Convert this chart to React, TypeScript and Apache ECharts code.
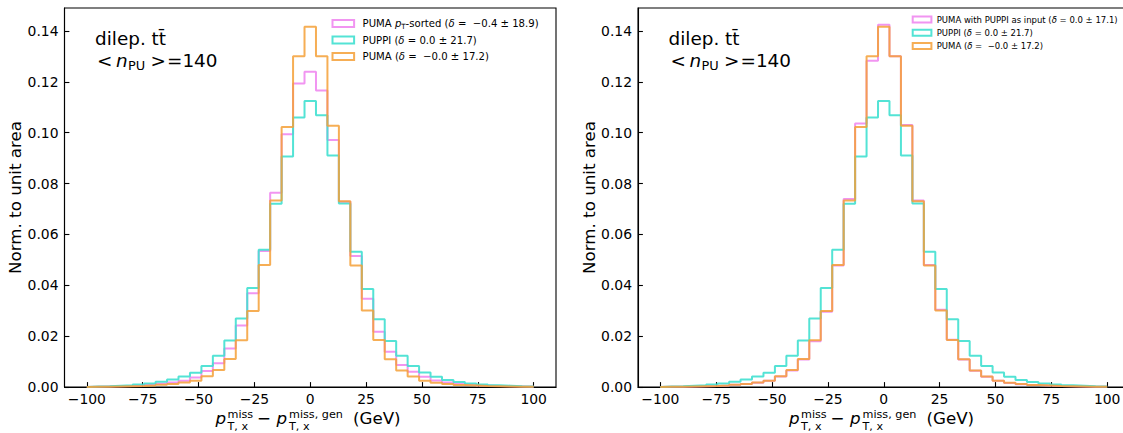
import React, { useEffect, useRef } from "react";
import * as echarts from "echarts";

// ---------------- data ----------------
const BIN_LO = -100;
const BIN_HI = 100;
const N_BINS = 39;
const BIN_EDGES: number[] = Array.from({ length: N_BINS + 1 }, (_, i) => BIN_LO + (i * (BIN_HI - BIN_LO)) / N_BINS);

const X_TICKS = [-100, -75, -50, -25, 0, 25, 50, 75, 100];
const Y_TICKS = [0, 0.02, 0.04, 0.06, 0.08, 0.1, 0.12, 0.14];

const PUPPI = [
  0.0002, 0.0003, 0.0005, 0.0007, 0.001, 0.0014, 0.0021, 0.0029, 0.0041, 0.0056, 0.0083, 0.0123, 0.0183,
  0.0269, 0.0389, 0.054, 0.072, 0.0906, 0.106, 0.1124, 0.1068, 0.091, 0.0721, 0.0532, 0.0385, 0.0266, 0.0181,
  0.0123, 0.0083, 0.0057, 0.004, 0.0028, 0.002, 0.0014, 0.001, 0.0007, 0.0005, 0.0003, 0.0002,
];
const PUMA = [
  0.0001, 0.0001, 0.0002, 0.0003, 0.0004, 0.0006, 0.0009, 0.0012, 0.0018, 0.0025, 0.0042, 0.0067, 0.011,
  0.0184, 0.0299, 0.048, 0.0733, 0.1022, 0.13, 0.1416, 0.13, 0.1027, 0.073, 0.0478, 0.0301, 0.0185, 0.0109,
  0.0065, 0.0041, 0.0025, 0.0017, 0.0012, 0.0008, 0.0006, 0.0004, 0.0003, 0.0002, 0.0001, 0.0001,
];
const PUMA_PT_SORTED = [
  0.0001, 0.0002, 0.0003, 0.0004, 0.0006, 0.0009, 0.0013, 0.0018, 0.0025, 0.0037, 0.0063, 0.0093, 0.0151,
  0.0242, 0.0369, 0.0535, 0.0764, 0.0994, 0.1193, 0.1239, 0.1166, 0.0971, 0.0728, 0.0515, 0.0347, 0.0217,
  0.0139, 0.0086, 0.006, 0.004, 0.0026, 0.0018, 0.0013, 0.0009, 0.0006, 0.0004, 0.0003, 0.0002, 0.0001,
];
const PUMA_PUPPI_INPUT = [
  0.0001, 0.0001, 0.0002, 0.0003, 0.0004, 0.0006, 0.0009, 0.0012, 0.0017, 0.0025, 0.0041, 0.0065, 0.0108,
  0.018, 0.0296, 0.0478, 0.0739, 0.1036, 0.1283, 0.1424, 0.13, 0.103, 0.0733, 0.048, 0.0304, 0.0186, 0.0108,
  0.0064, 0.004, 0.0025, 0.0016, 0.0011, 0.0008, 0.0006, 0.0004, 0.0003, 0.0002, 0.0001, 0.0001,
];

const LBL_PT_SORTED = "PUMA pT-sorted (δ = −0.4 ± 18.9)";
const LBL_PUPPI_IN = "PUMA with PUPPI as input (δ = 0.0 ± 17.1)";
const LBL_PUPPI = "PUPPI (δ = 0.0 ± 21.7)";
const LBL_PUMA = "PUMA (δ = −0.0 ± 17.2)";

const RICH_LABELS: Record<string, string> = {
  [LBL_PT_SORTED]: "PUMA {i|p}{s|T}-sorted ({i|δ} =  −0.4 ± 18.9)",
  [LBL_PUPPI_IN]: "PUMA with PUPPI as input ({i|δ} = 0.0 ± 17.1)",
  [LBL_PUPPI]: "PUPPI ({i|δ} = 0.0 ± 21.7)",
  [LBL_PUMA]: "PUMA ({i|δ} =  −0.0 ± 17.2)",
};

// ---------------- style ----------------
const FONT = "'DejaVu Sans', sans-serif";
const C_PINK = "rgba(238,130,238,0.85)";
const C_CYAN = "rgba(64,224,208,0.9)";
const C_ORANGE = "rgba(245,160,55,0.85)";

const GRID_TOP = 8;
const GRID_H = 379;
const GRID_W = 491.5;
const GRID_LEFTS = [64.5, 638];

function stepData(vals: number[]) {
  const pts: number[][] = [[BIN_EDGES[0], 0]];
  vals.forEach((v, i) => pts.push([BIN_EDGES[i], v]));
  pts.push([BIN_EDGES[N_BINS], 0]);
  return pts;
}

function fmtX(v: number) {
  return v < 0 ? "\u2212" + Math.abs(v) : String(v);
}

function txt(x: number, baseline: number, text: string, size: number, italic = false) {
  return {
    type: "text",
    x,
    y: baseline - 0.35 * size,
    silent: true,
    style: {
      text,
      fontSize: size,
      fontFamily: FONT,
      fontStyle: italic ? "italic" : "normal",
      fill: "#000",
      align: "left",
      verticalAlign: "middle",
    },
  };
}

function panelGraphics(dx: number) {
  const L = 16.7;
  const S = 11.2;
  const A = 18.4;
  const As = 12.9;
  return [
    // x-axis title
    txt(215.5 + dx, 424, "p", L, true),
    txt(227.5 + dx, 418, "miss", S),
    txt(227.5 + dx, 430.5, "T, x", S),
    txt(257 + dx, 424, "\u2212", L),
    txt(276.5 + dx, 424, "p", L, true),
    txt(289 + dx, 418, "miss, gen", S),
    txt(289 + dx, 430.5, "T, x", S),
    txt(353 + dx, 424, "(GeV)", L),
    // annotation
    txt(95 + dx, 45, "dilep. tt\u0304", A),
    txt(97 + dx, 67.3, "<", A),
    txt(116 + dx, 67.3, "n", A, true),
    txt(128 + dx, 70, "PU", As),
    txt(150.5 + dx, 67.3, ">", A),
    txt(167 + dx, 67.3, "=140", A),
  ];
}

function axisPair(idx: number) {
  const x = {
    type: "value",
    gridIndex: idx,
    min: -110,
    max: 110,
    axisLine: { show: true, onZero: false, lineStyle: { color: "#000", width: 1.1 } },
    axisTick: { show: true, inside: true, length: 4.9, customValues: X_TICKS, lineStyle: { color: "#000", width: 1.1 } },
    axisLabel: {
      show: true,
      customValues: X_TICKS,
      formatter: fmtX,
      fontSize: 13.9,
      fontFamily: FONT,
      color: "#000",
      margin: 5,
    },
    splitLine: { show: false },
  };
  const y = {
    type: "value",
    gridIndex: idx,
    min: 0,
    max: 0.149,
    name: "Norm. to unit area",
    nameLocation: "middle",
    nameGap: 38,
    nameTextStyle: { fontSize: 16.7, fontFamily: FONT, color: "#000" },
    axisLine: { show: true, onZero: false, lineStyle: { color: "#000", width: 1.1 } },
    axisTick: { show: true, inside: true, length: 4.9, customValues: Y_TICKS, lineStyle: { color: "#000", width: 1.1 } },
    axisLabel: {
      show: true,
      customValues: Y_TICKS,
      formatter: (v: number) => v.toFixed(2),
      fontSize: 13.9,
      fontFamily: FONT,
      color: "#000",
      margin: 6,
    },
    splitLine: { show: false },
  };
  return { x, y };
}

function hist(name: string, vals: number[], color: string, idx: number, z: number) {
  return {
    name,
    type: "line",
    xAxisIndex: idx,
    yAxisIndex: idx,
    step: "end",
    symbol: "none",
    data: stepData(vals),
    lineStyle: { color, width: 2 },
    itemStyle: { color },
    z,
  };
}

function legendFor(names: string[], colors: string[], left: number, top: number, font: number, lh: number, gap: number, iw: number, ih: number, pad: number) {
  return {
    orient: "vertical",
    left,
    top,
    padding: 0,
    itemGap: gap,
    itemWidth: iw,
    itemHeight: ih,
    selectedMode: false,
    formatter: (n: string) => RICH_LABELS[n] || n,
    textStyle: {
      fontSize: font,
      fontFamily: FONT,
      color: "#000",
      lineHeight: lh,
      padding: [0, 0, 0, pad],
      rich: {
        i: { fontSize: font, fontFamily: FONT, fontStyle: "italic", color: "#000", lineHeight: lh },
        s: { fontSize: font * 0.7, fontFamily: FONT, color: "#000", lineHeight: lh, verticalAlign: "bottom" },
      },
    },
    data: names.map((n, i) => ({
      name: n,
      icon: "rect",
      itemStyle: { color: "rgba(0,0,0,0)", borderColor: colors[i], borderWidth: 2 },
    })),
  };
}

export default function App() {
  const ref = useRef<HTMLDivElement>(null);
  useEffect(() => {
    if (!ref.current) return;
    const chart = echarts.init(ref.current, undefined, { renderer: "svg" });
    const a0 = axisPair(0);
    const a1 = axisPair(1);
    const option = {
      animation: false,
      backgroundColor: "#fff",
      grid: GRID_LEFTS.map((l) => ({
        left: l,
        top: GRID_TOP,
        width: GRID_W,
        height: GRID_H,
        show: true,
        borderColor: "#000",
        borderWidth: 1.1,
        backgroundColor: "transparent",
      })),
      xAxis: [a0.x, a1.x],
      yAxis: [a0.y, a1.y],
      legend: [
        legendFor([LBL_PT_SORTED, LBL_PUPPI, LBL_PUMA], [C_PINK, C_CYAN, C_ORANGE], 331.5, 17.5, 10.1, 12.2, 4.3, 21.6, 7, 3.5),
        legendFor([LBL_PUPPI_IN, LBL_PUPPI, LBL_PUMA], [C_PINK, C_CYAN, C_ORANGE], 911.7, 14.5, 8.5, 10, 3.3, 18.7, 6, 0.3),
      ],
      series: [
        hist(LBL_PT_SORTED, PUMA_PT_SORTED, C_PINK, 0, 2),
        hist(LBL_PUPPI, PUPPI, C_CYAN, 0, 3),
        hist(LBL_PUMA, PUMA, C_ORANGE, 0, 4),
        hist(LBL_PUPPI_IN, PUMA_PUPPI_INPUT, C_PINK, 1, 2),
        hist(LBL_PUPPI, PUPPI, C_CYAN, 1, 3),
        hist(LBL_PUMA, PUMA, C_ORANGE, 1, 4),
      ],
      graphic: [...panelGraphics(0), ...panelGraphics(573.5)],
    };
    chart.setOption(option as any);
    return () => chart.dispose();
  }, []);
  return (
    <div style={{ position: "fixed", left: 0, top: 0, width: 1123, height: 433, overflow: "hidden", background: "#fff" }}>
      <div ref={ref} style={{ width: 1140, height: 433 }} />
    </div>
  );
}
